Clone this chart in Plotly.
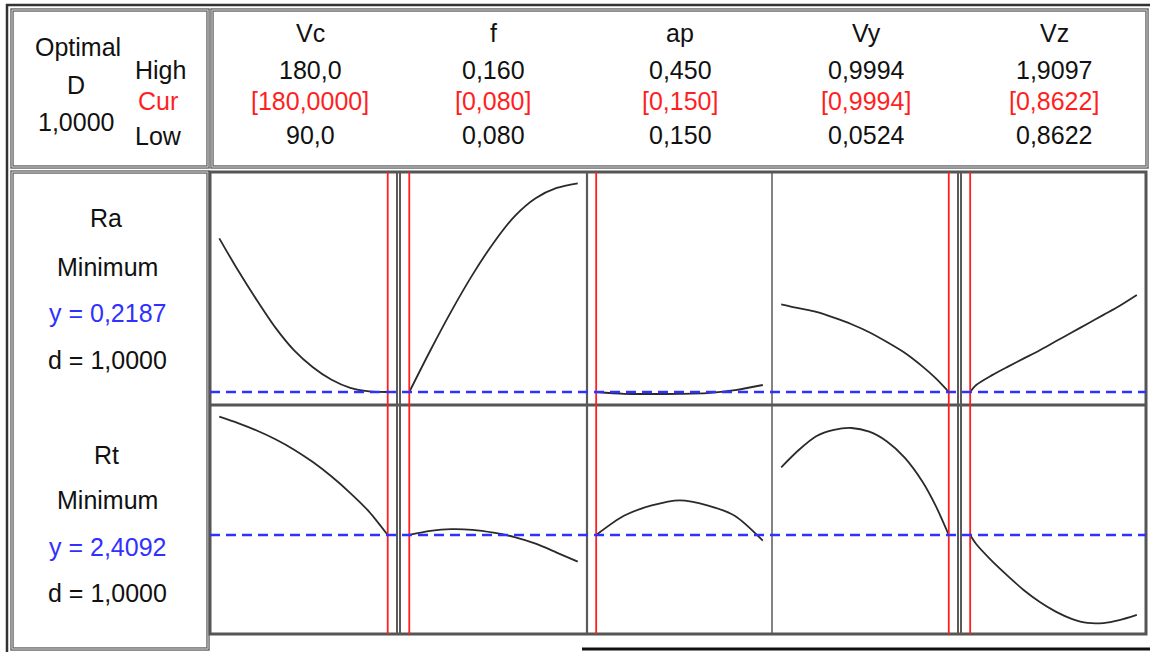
import plotly.graph_objects as go

W, H = 1150, 652

# ---------------- data ----------------
factors = ["Vc", "f", "ap", "Vy", "Vz"]
high_labels = ["180,0", "0,160", "0,450", "0,9994", "1,9097"]
cur_labels = ["[180,0000]", "[0,080]", "[0,150]", "[0,9994]", "[0,8622]"]
low_labels = ["90,0", "0,080", "0,150", "0,0524", "0,8622"]
low_vals = [90, 0.08, 0.15, 0.0524, 0.8622]
high_vals = [180, 0.16, 0.45, 0.9994, 1.9097]
cur_vals = [180, 0.08, 0.15, 0.9994, 0.8622]

responses = ["Ra", "Rt"]
goals = ["Minimum", "Minimum"]
y_opt = [0.2187, 2.4092]
y_labels = ["y = 0,2187", "y = 2,4092"]
d_labels = ["d = 1,0000", "d = 1,0000"]
overall_d = "1,0000"

vc_grid = [90, 100, 110, 120, 130, 140, 150, 160, 170, 180]
ra_vc = [0.940, 0.790, 0.651, 0.521, 0.414, 0.335, 0.276, 0.238, 0.222, 0.2187]
rt_vc = [4.168, 4.073, 3.963, 3.833, 3.678, 3.493, 3.278, 3.033, 2.758, 2.4092]

f_grid = [0.08, 0.09, 0.10, 0.11, 0.12, 0.13, 0.14, 0.15, 0.16]
ra_f = [0.2187, 0.4137, 0.5987, 0.7687, 0.9187, 1.0437, 1.1287, 1.1767, 1.1987]
rt_f = [2.4092, 2.469, 2.495, 2.485, 2.443, 2.378, 2.280, 2.148, 2.012]

ap_grid = [0.15, 0.20, 0.25, 0.30, 0.35, 0.40, 0.45]
ra_ap = [0.2187, 0.2103, 0.2093, 0.2098, 0.2131, 0.2272, 0.2516]
rt_ap = [2.4092, 2.695, 2.848, 2.925, 2.851, 2.692, 2.324]

vy_grid = [0.0524, 0.15, 0.25, 0.35, 0.45, 0.55, 0.65, 0.75, 0.85, 0.925, 0.9994]
ra_vy = [0.6305, 0.612, 0.595, 0.568, 0.537, 0.4995, 0.4535, 0.403, 0.339, 0.2835, 0.2187]
rt_vy = [3.416, 3.669, 3.877, 3.972, 4.000, 3.945, 3.800, 3.560, 3.205, 2.846, 2.4092]

vz_grid = [0.8622, 0.9, 1.0, 1.1, 1.2, 1.3, 1.4, 1.5, 1.6, 1.7, 1.8, 1.9097]
ra_vz = [0.2187, 0.2516, 0.298, 0.338, 0.3765, 0.415, 0.4567, 0.498, 0.5394, 0.581, 0.6225, 0.674]
rt_vz = [2.4092, 2.275, 2.021, 1.798, 1.588, 1.413, 1.270, 1.163, 1.101, 1.099, 1.142, 1.220]

grids = [vc_grid, f_grid, ap_grid, vy_grid, vz_grid]
curves = [[ra_vc, ra_f, ra_ap, ra_vy, ra_vz], [rt_vc, rt_f, rt_ap, rt_vy, rt_vz]]

# ---------------- layout helpers ----------------
def X(px):
    return px / W

def Y(py):
    return 1 - py / H

panel_x = [(210, 397), (400, 587), (587, 772), (772, 958), (961, 1146)]
row_y = [(172, 405), (405, 634)]
y_ranges = [[0.1577, 1.2516], [0.937, 4.342]]
PAD = 0.055

FONT = "Liberation Sans, Arial, sans-serif"
RED = "#ff1f1f"
BLUE = "#3030ff"

fig = go.Figure()
layout = {}

for r in range(2):
    for c in range(5):
        idx = r * 5 + c + 1
        s = "" if idx == 1 else str(idx)
        lo, hi = low_vals[c], high_vals[c]
        span = hi - lo
        layout["xaxis" + s] = dict(
            domain=[X(panel_x[c][0]), X(panel_x[c][1])],
            range=[lo - PAD * span, hi + PAD * span],
            anchor="y" + s, visible=False, fixedrange=True)
        layout["yaxis" + s] = dict(
            domain=[Y(row_y[r][1]), Y(row_y[r][0])],
            range=y_ranges[r],
            anchor="x" + s, visible=False, fixedrange=True)
        fig.add_trace(go.Scatter(
            x=grids[c], y=curves[r][c], xaxis="x" + s, yaxis="y" + s,
            mode="lines", hoverinfo="skip", showlegend=False,
            line=dict(color="#2a2a2a", width=1.8, shape="spline", smoothing=0.8)))

shapes = []
GRAY = "#5a5a5a"

def rect(x0, y0, x1, y1, color=GRAY, width=2.5):
    shapes.append(dict(type="rect", xref="paper", yref="paper",
                       x0=X(x0), x1=X(x1), y0=Y(y1), y1=Y(y0),
                       line=dict(color=color, width=width), layer="above"))

def double_rect(x0, y0, x1, y1):
    rect(x0, y0, x1, y1, color="#6a6a6a", width=3.5)
    rect(x0, y0, x1, y1, color="#d0d0d0", width=1)

def hline(x0, x1, y, color=GRAY, width=2):
    shapes.append(dict(type="line", xref="paper", yref="paper",
                       x0=X(x0), x1=X(x1), y0=Y(y), y1=Y(y),
                       line=dict(color=color, width=width), layer="above"))

def vline(x, y0, y1, color=GRAY, width=2):
    shapes.append(dict(type="line", xref="paper", yref="paper",
                       x0=X(x), x1=X(x), y0=Y(y0), y1=Y(y1),
                       line=dict(color=color, width=width), layer="above"))

# outer frame pieces
hline(6, 1150, 5, color="#333333", width=2.5)
vline(7, 4, 652, color="#333333", width=2.5)
# header boxes
double_rect(12, 10, 208, 167)
double_rect(212, 10, 1147, 167)
# left label column
double_rect(12, 172, 208, 649)
# plot area
rect(210, 172, 1146, 634, color="#555555", width=3)
hline(210, 1146, 405, color="#555555", width=3)
vline(397, 172, 634, width=2)
vline(400, 172, 634, width=2)
vline(587, 172, 634, width=2.2)
vline(772, 172, 634, width=1.5)
vline(958, 172, 634, width=2)
vline(961, 172, 634, width=2)
# bottom black line
hline(582, 1150, 649, color="#111111", width=3)

# red current-setting lines (data coordinates on the factor axes)
for c in range(5):
    s = "" if c == 0 else str(c + 1)
    shapes.append(dict(type="line", xref="x" + s, yref="paper",
                       x0=cur_vals[c], x1=cur_vals[c], y0=Y(634), y1=Y(172),
                       line=dict(color=RED, width=1.8), layer="above"))

# blue dashed optimum response lines
for r in range(2):
    s = "" if r == 0 else "6"
    shapes.append(dict(type="line", xref="paper", yref="y" + s,
                       x0=X(210), x1=X(1146), y0=y_opt[r], y1=y_opt[r],
                       line=dict(color=BLUE, width=2.5, dash="10px,6px"), layer="above"))

ann = []

def text(px, py, t, color="#111111", size=25):
    ann.append(dict(x=X(px), y=Y(py), xref="paper", yref="paper", text=t,
                    showarrow=False, xanchor="center", yanchor="middle",
                    font=dict(family=FONT, size=size, color=color)))

# header left
text(78, 47, "Optimal")
text(76, 85, "D")
text(76, 122, overall_d)
text(160, 70, "High")
text(158, 101, "Cur", color=RED)
text(158, 136, "Low")

col_cx = [310, 493, 680, 866, 1054]
for c in range(5):
    text(col_cx[c], 33, factors[c])
    text(col_cx[c], 70, high_labels[c])
    text(col_cx[c], 101, cur_labels[c], color=RED)
    text(col_cx[c], 135, low_labels[c])

row_text_y = [(218, 267, 313, 360), (455, 500, 547, 593)]
for r in range(2):
    ys = row_text_y[r]
    text(106, ys[0], responses[r])
    text(108, ys[1], goals[r])
    text(108, ys[2], y_labels[r], color=BLUE)
    text(108, ys[3], d_labels[r])

fig.update_layout(
    width=W, height=H,
    margin=dict(l=0, r=0, t=0, b=0),
    paper_bgcolor="white", plot_bgcolor="white",
    shapes=shapes, annotations=ann,
    **layout)

fig.write_html("out.html", config={"displayModeBar": False},
               post_script="document.body.style.margin='0';document.body.style.overflow='hidden';")
